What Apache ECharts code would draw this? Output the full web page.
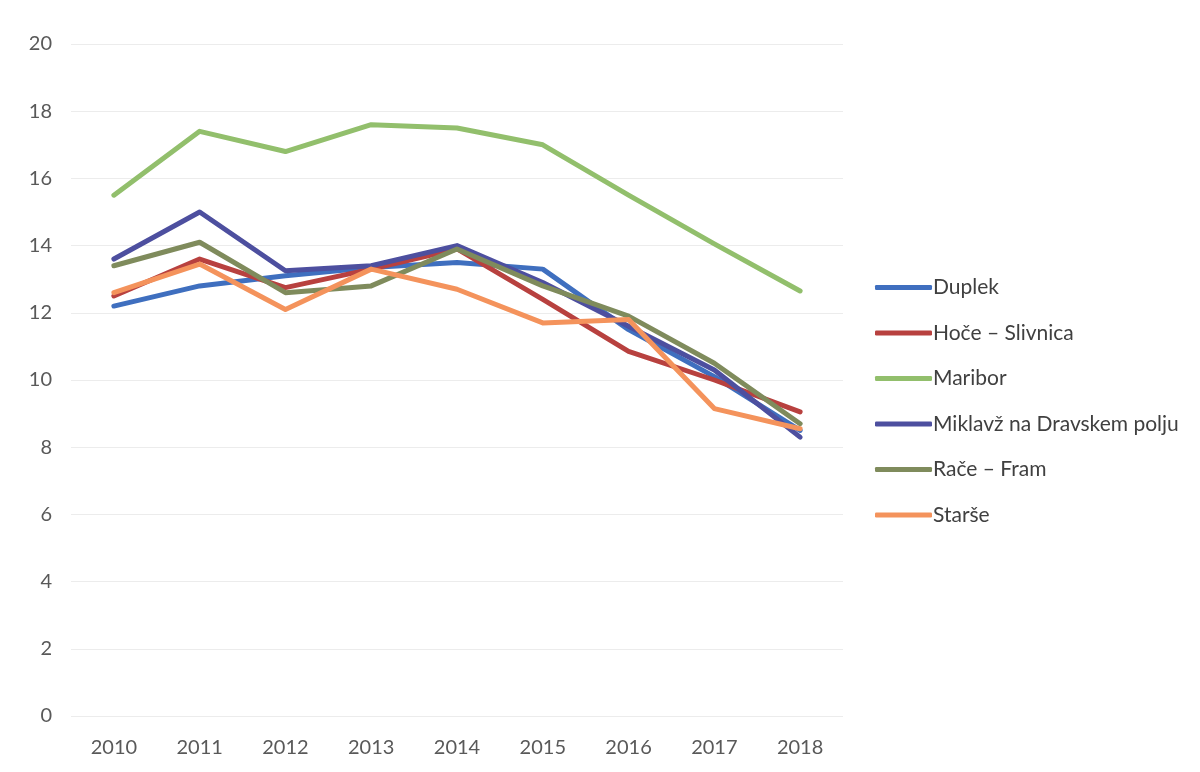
<!DOCTYPE html>
<html>
<head>
<meta charset="utf-8">
<script src="https://cdn.jsdelivr.net/npm/echarts@6.0.0/dist/echarts.min.js"></script>
<style>
  html, body { margin: 0; padding: 0; background: #fff; }
  #chart { width: 1200px; height: 772px; }
</style>
</head>
<body>
<div id="chart"></div>
<script>
// values
const years = ["2010", "2011", "2012", "2013", "2014", "2015", "2016", "2017", "2018"];
const duplek = [12.2, 12.8, 13.1, 13.35, 13.5, 13.3, 11.5, 10.1, 8.5];
const hoce = [12.5, 13.6, 12.75, 13.3, 13.9, 12.4, 10.85, 10.0, 9.05];
const maribor = [15.5, 17.4, 16.8, 17.6, 17.5, 17.0, 15.5, 14.05, 12.65];
const miklavz = [13.6, 15.0, 13.25, 13.4, 14.0, 12.9, 11.6, 10.3, 8.3];
const race = [13.4, 14.1, 12.6, 12.8, 13.9, 12.8, 11.9, 10.5, 8.7];
const starse = [12.6, 13.45, 12.1, 13.3, 12.7, 11.7, 11.8, 9.15, 8.55];

const seriesNames = ["Duplek", "Hoče – Slivnica", "Maribor", "Miklavž na Dravskem polju", "Rače – Fram", "Starše"];
const seriesData = [duplek, hoce, maribor, miklavz, race, starse];
const colors = ["#3f6fbf", "#b8413f", "#92bf6c", "#4d4f9f", "#7f8b5c", "#f4935c"];

const chart = echarts.init(document.getElementById("chart"));

chart.setOption({
  animation: false,
  color: colors,
  textStyle: { fontFamily: "Lato, 'Open Sans', sans-serif" },
  grid: { left: 71, right: 357, top: 44, bottom: 56, containLabel: false },
  legend: {
    orient: "vertical",
    left: 875,
    top: 277,
    padding: 0,
    itemWidth: 57,
    itemHeight: 5,
    itemGap: 24.5,
    icon: "roundRect",
    textStyle: { fontSize: 21, lineHeight: 21, color: "#404040", padding: [0, 0, 0, -4] },
    data: seriesNames
  },
  xAxis: {
    type: "category",
    data: years,
    boundaryGap: true,
    axisLine: { show: false },
    axisTick: { show: false },
    axisLabel: { fontSize: 20, color: "#595959", margin: 22 }
  },
  yAxis: {
    type: "value",
    min: 0,
    max: 20,
    interval: 2,
    axisLine: { show: false },
    axisTick: { show: false },
    axisLabel: { fontSize: 20, color: "#595959", margin: 19 },
    splitLine: { lineStyle: { color: "#ececec", width: 1 } }
  },
  series: seriesNames.map((name, i) => ({
    name: name,
    type: "line",
    data: seriesData[i],
    symbol: "none",
    lineStyle: { width: 5, cap: "round", join: "round" }
  }))
});
</script>
</body>
</html>
